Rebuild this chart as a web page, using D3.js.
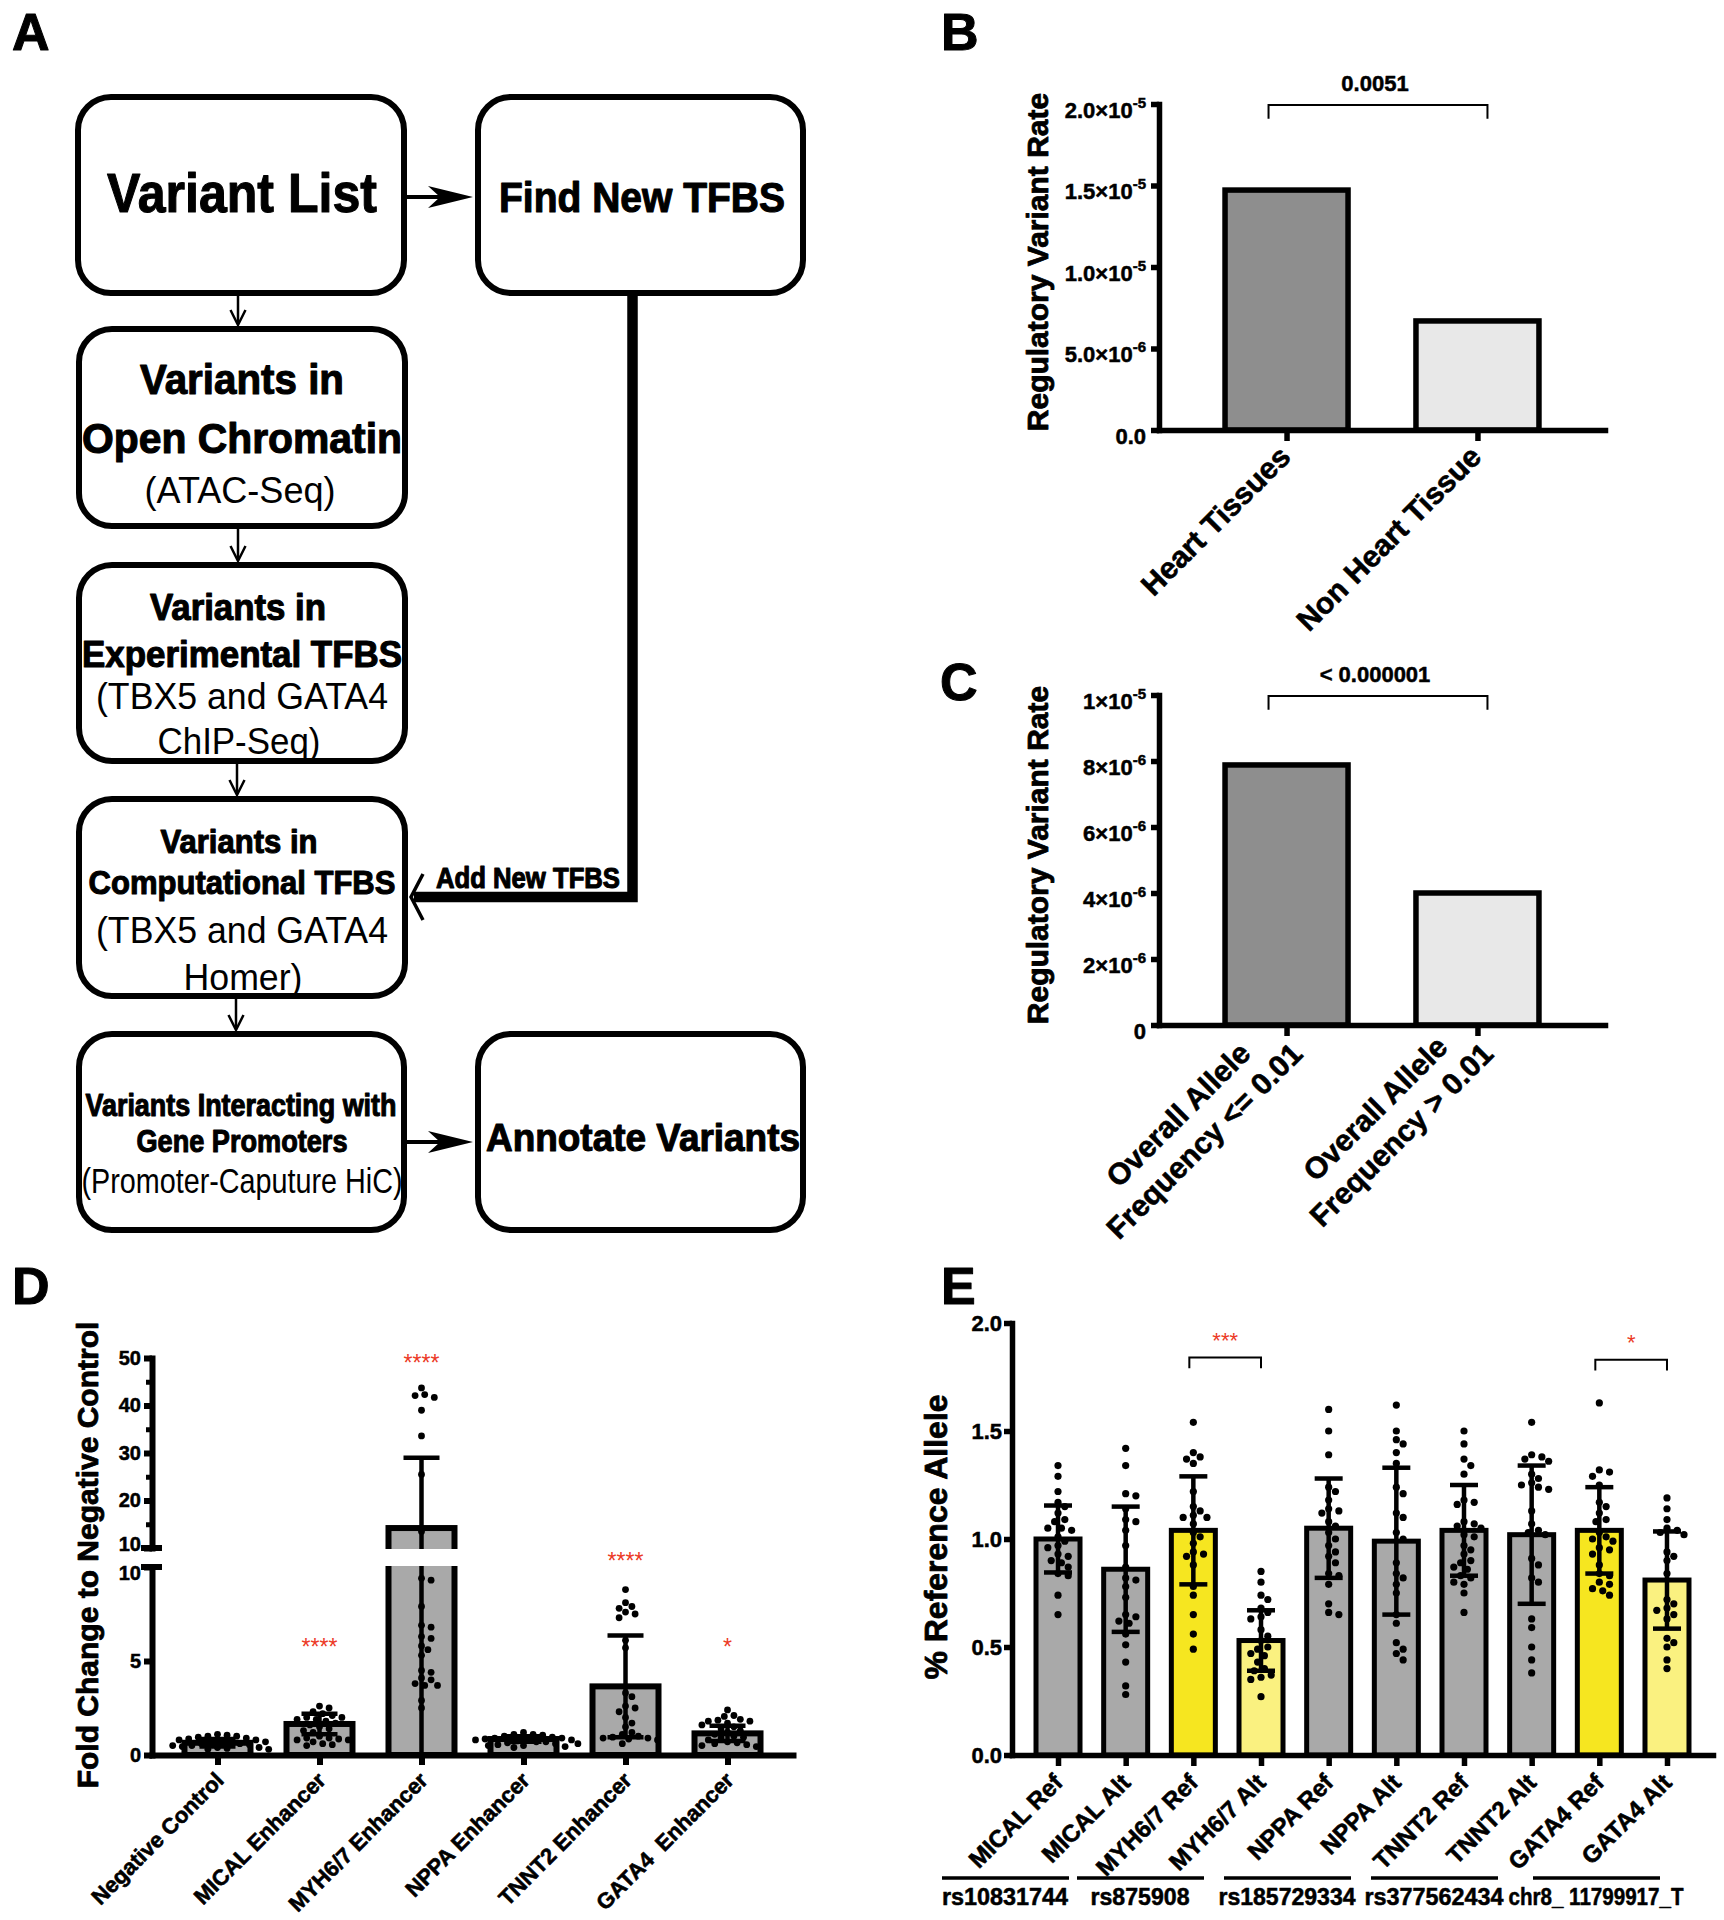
<!DOCTYPE html>
<html><head><meta charset="utf-8">
<script src="https://cdn.jsdelivr.net/npm/d3@7"></script>
<style>body{margin:0;background:#fff}svg{display:block}</style>
</head><body>
<svg id="fig" width="1724" height="1920"></svg>
<script>
// ================= DATA =================
const panelLetters = ["A", "B", "C", "D", "E"];

// Panel A: flowchart texts (content only)
const flowVariantList = ["Variant List"];
const flowFindNew = ["Find New TFBS"];
const flowOpenChromatin = ["Variants in", "Open Chromatin", "(ATAC-Seq)"];
const flowExperimental = ["Variants in", "Experimental TFBS", "(TBX5 and GATA4", "ChIP-Seq)"];
const flowComputational = ["Variants in", "Computational TFBS", "(TBX5 and GATA4", "Homer)"];
const flowInteracting = ["Variants Interacting with", "Gene Promoters", "(Promoter-Caputure HiC)"];
const flowAnnotate = ["Annotate Variants"];
const flowFeedback = ["Add New TFBS"];

// Panel B
const bCategories = ["Heart Tissues", "Non Heart Tissue"];
const bValues = [1.472e-5, 6.69e-6];
const bTickValues = [0, 5e-6, 1e-5, 1.5e-5, 2e-5];
const bTickMantissa = ["0.0", "5.0×10", "1.0×10", "1.5×10", "2.0×10"];
const bTickExponent = ["", "-6", "-5", "-5", "-5"];
const bPValue = "0.0051";
const bYTitle = "Regulatory Variant Rate";

// Panel C
const cCategories = ["Overall Allele\nFrequency <= 0.01", "Overall Allele\nFrequency > 0.01"];
const cValues = [7.88e-6, 4.0e-6];
const cTickValues = [0, 2e-6, 4e-6, 6e-6, 8e-6, 1e-5];
const cTickMantissa = ["0", "2×10", "4×10", "6×10", "8×10", "1×10"];
const cTickExponent = ["", "-6", "-6", "-6", "-6", "-5"];
const cPValue = "< 0.000001";
const cYTitle = "Regulatory Variant Rate";

// Panel D
const dCategories = ["Negative Control", "MICAL Enhancer", "MYH6/7 Enhancer", "NPPA Enhancer", "TNNT2 Enhancer", "GATA4  Enhancer"];
const dMeans = [0.65, 1.65, 14.2, 0.85, 3.65, 1.15];
const dSD = [0.2, 0.55, 14.8, 0.15, 2.7, 0.4];
const dPoints = [
  [1.1, 1.05, 1.0, 1.0, 0.95, 0.9, 0.85, 0.8, 0.8, 0.75, 0.7, 0.7, 0.65, 0.6, 0.6, 0.55, 0.5, 0.5, 0.45, 0.4, 0.4, 0.35, 0.3, 0.3],
  [2.6, 2.5, 2.3, 2.2, 2.1, 2.0, 2.0, 1.9, 1.9, 1.8, 1.7, 1.6, 1.5, 1.4, 1.3, 1.2, 1.0, 0.9, 0.9, 0.85, 0.8, 0.8, 0.7, 0.6, 0.55, 0.5],
  [43.7, 42.3, 42.1, 41.7, 39.0, 33.6, 25.5, 13.5, 9.4, 9.3, 7.9, 6.9, 6.8, 6.3, 6.2, 5.8, 5.6, 5.3, 4.5, 4.4, 4.1, 4.0, 3.8, 3.7, 3.7, 2.9, 2.5],
  [1.2, 1.1, 1.1, 1.05, 1.0, 0.95, 0.9, 0.9, 0.85, 0.85, 0.8, 0.8, 0.75, 0.7, 0.7, 0.65, 0.6, 0.6, 0.55, 0.5, 0.5, 0.45, 0.4],
  [8.8, 8.1, 7.9, 7.8, 7.6, 7.5, 7.3, 6.1, 5.7, 3.3, 3.1, 2.6, 2.5, 2.3, 2.0, 1.7, 1.5, 1.2, 1.1, 1.0, 0.95, 0.9, 0.9, 0.85, 0.8, 0.6],
  [2.4, 2.1, 2.05, 1.9, 1.85, 1.8, 1.8, 1.7, 1.6, 1.5, 1.4, 1.3, 1.2, 1.1, 1.0, 0.95, 0.9, 0.8, 0.7, 0.65, 0.6, 0.55, 0.5, 0.45]
];
const dSignif = ["", "****", "****", "", "****", "*"];
const dSignifLevel = [0, 6, 50, 0, 10.6, 6];
const dLowerTicks = [0, 5, 10];
const dUpperTicks = [10, 20, 30, 40, 50];
const dUpperMinor = [15, 25, 35, 45];
const dYTitle = "Fold Change to Negative Control";

// Panel E
const eCategories = ["MICAL Ref", "MICAL Alt", "MYH6/7 Ref", "MYH6/7 Alt", "NPPA Ref", "NPPA Alt", "TNNT2 Ref", "TNNT2 Alt", "GATA4 Ref", "GATA4 Alt"];
const eMeans = [1.00, 0.86, 1.04, 0.53, 1.05, 0.99, 1.04, 1.02, 1.04, 0.81];
const eSD = [0.155, 0.29, 0.25, 0.14, 0.23, 0.34, 0.21, 0.32, 0.20, 0.225];
const eColorGroup = ["gray", "gray", "ref", "alt", "gray", "gray", "gray", "gray", "ref", "alt"];
const ePoints = [
  [1.34, 1.29, 1.22, 1.17, 1.15, 1.12, 1.09, 1.08, 1.05, 1.05, 1.04, 1.01, 0.99, 0.97, 0.96, 0.93, 0.92, 0.90, 0.89, 0.87, 0.84, 0.83, 0.74, 0.65],
  [1.42, 1.34, 1.21, 1.20, 1.14, 1.09, 1.08, 1.04, 0.97, 0.87, 0.82, 0.81, 0.78, 0.73, 0.65, 0.64, 0.62, 0.61, 0.56, 0.51, 0.43, 0.32, 0.28],
  [1.54, 1.40, 1.38, 1.37, 1.35, 1.22, 1.15, 1.13, 1.11, 1.10, 1.10, 1.07, 1.03, 1.01, 0.98, 0.94, 0.93, 0.92, 0.88, 0.78, 0.74, 0.65, 0.56, 0.49],
  [0.85, 0.80, 0.74, 0.72, 0.68, 0.66, 0.64, 0.63, 0.58, 0.55, 0.53, 0.50, 0.49, 0.47, 0.46, 0.43, 0.40, 0.39, 0.37, 0.36, 0.35, 0.27],
  [1.60, 1.50, 1.39, 1.24, 1.22, 1.18, 1.14, 1.13, 1.12, 1.08, 1.06, 1.03, 1.00, 0.97, 0.94, 0.92, 0.89, 0.84, 0.83, 0.79, 0.70, 0.66, 0.65],
  [1.62, 1.50, 1.46, 1.44, 1.40, 1.35, 1.24, 1.21, 1.12, 1.10, 1.03, 1.00, 0.89, 0.84, 0.82, 0.79, 0.75, 0.65, 0.61, 0.52, 0.49, 0.47, 0.44],
  [1.50, 1.44, 1.37, 1.34, 1.30, 1.18, 1.17, 1.16, 1.08, 1.07, 1.06, 1.05, 1.02, 1.01, 0.97, 0.95, 0.93, 0.90, 0.89, 0.87, 0.86, 0.83, 0.82, 0.80, 0.79, 0.75, 0.66],
  [1.54, 1.39, 1.38, 1.37, 1.36, 1.30, 1.28, 1.26, 1.25, 1.24, 1.23, 1.13, 1.07, 1.04, 1.03, 1.02, 0.91, 0.88, 0.82, 0.80, 0.63, 0.59, 0.50, 0.44, 0.38],
  [1.63, 1.32, 1.31, 1.29, 1.25, 1.17, 1.15, 1.12, 1.09, 1.08, 1.03, 1.01, 1.00, 0.99, 0.96, 0.95, 0.93, 0.88, 0.84, 0.83, 0.80, 0.79, 0.77, 0.76, 0.74],
  [1.19, 1.14, 1.09, 1.05, 1.04, 1.03, 1.02, 0.94, 0.92, 0.90, 0.84, 0.72, 0.70, 0.68, 0.67, 0.65, 0.63, 0.54, 0.52, 0.50, 0.44, 0.40]
];
const eTicks = [0, 0.5, 1.0, 1.5, 2.0];
const eSnps = ["rs10831744", "rs875908", "rs185729334", "rs377562434", "chr8_ 11799917_T"];
const eSignifPairs = [[2, 3], [8, 9]];
const eSignifLabels = ["***", "*"];
const eSignifLevels = [1.84, 1.83];
const eYTitle = "% Reference Allele";

// ================= STYLE / LAYOUT =================
const FONT = "'Liberation Sans', Arial, Helvetica, sans-serif";
const RED = "#ec3a26";
const GRAY = "#a9a9a9";
const colorMap = { gray: GRAY, ref: "#f6e620", alt: "#faf180" };
const svg = d3.select("#fig");
svg.append("rect").attr("width", 1724).attr("height", 1920).attr("fill", "#fff");

function heavy(sel, w) { return sel.attr("stroke", sel.attr("fill") || "#000").attr("stroke-width", w).attr("stroke-linejoin", "round"); }
function txt(parent, s, x, y, fs, weight, anchor) {
  return parent.append("text").attr("x", x).attr("y", y).attr("font-family", FONT)
    .attr("font-size", fs).attr("font-weight", weight || "bold")
    .attr("text-anchor", anchor || "start").attr("fill", "#000").text(s);
}

// panel letters
const letterPos = [[12, 50], [941, 50], [940, 700], [12, 1304], [941, 1304]];
panelLetters.forEach((l, i) => heavy(txt(svg, l, letterPos[i][0], letterPos[i][1], 52, "bold"), 1));

// ================= PANEL A =================
const A = svg.append("g");
const boxes = [
  [75, 94, 407, 296], [475, 94, 806, 296], [76, 326, 408, 529], [76, 562, 408, 764],
  [76, 796, 408, 999], [76, 1031, 407, 1233], [475, 1031, 806, 1233]
];
boxes.forEach(b => A.append("rect").attr("x", b[0] + 3).attr("y", b[1] + 3)
  .attr("width", b[2] - b[0] - 6).attr("height", b[3] - b[1] - 6).attr("rx", 33)
  .attr("fill", "#fff").attr("stroke", "#000").attr("stroke-width", 6));

function flowLines(lines, cx, specs) {
  lines.forEach((s, i) => {
    const sp = specs[i];
    const t = A.append("text").attr("x", cx + (sp.dx || 0)).attr("y", sp.y).attr("font-family", FONT)
      .attr("font-size", sp.fs).attr("font-weight", sp.w).attr("text-anchor", "middle").attr("fill", "#000")
      .attr("textLength", sp.len).attr("lengthAdjust", "spacingAndGlyphs").text(s);
    if (sp.w === "bold") heavy(t, 1.1);
  });
}
flowLines(flowVariantList, 242, [{ y: 212, fs: 56, w: "bold", len: 270 }]);
flowLines(flowFindNew, 642, [{ y: 212, fs: 42, w: "bold", len: 286 }]);
flowLines(flowOpenChromatin, 242, [
  { y: 394, fs: 42, w: "bold", len: 204 }, { y: 453, fs: 42, w: "bold", len: 320 },
  { y: 503, fs: 36, w: "normal", len: 191, dx: -2 }]);
flowLines(flowExperimental, 242, [
  { y: 620, fs: 36, w: "bold", len: 176, dx: -4 }, { y: 667, fs: 36, w: "bold", len: 320 },
  { y: 709, fs: 37, w: "normal", len: 292 }, { y: 754, fs: 37, w: "normal", len: 163, dx: -3 }]);
flowLines(flowComputational, 242, [
  { y: 853, fs: 33, w: "bold", len: 157, dx: -3 }, { y: 894, fs: 34, w: "bold", len: 307 },
  { y: 943, fs: 37, w: "normal", len: 292 }, { y: 990, fs: 37, w: "normal", len: 119, dx: 1 }]);
flowLines(flowInteracting, 242, [
  { y: 1116, fs: 31, w: "bold", len: 311, dx: -1 }, { y: 1152, fs: 31, w: "bold", len: 211 },
  { y: 1193, fs: 35, w: "normal", len: 321 }]);
flowLines(flowAnnotate, 643, [{ y: 1151, fs: 39, w: "bold", len: 314 }]);
flowLines(flowFeedback, 528, [{ y: 888, fs: 29, w: "bold", len: 184 }]);

// down arrows between left boxes
[[296, 326, 238], [529, 562, 238], [764, 796, 237], [999, 1031, 236]].forEach(a => {
  A.append("line").attr("x1", a[2]).attr("x2", a[2]).attr("y1", a[0]).attr("y2", a[1] - 2)
    .attr("stroke", "#000").attr("stroke-width", 2.5);
  A.append("path").attr("d", `M${a[2] - 7.5},${a[1] - 16} L${a[2]},${a[1] - 1} L${a[2] + 7.5},${a[1] - 16}`)
    .attr("fill", "none").attr("stroke", "#000").attr("stroke-width", 2.5);
});
// right arrows
[[407, 473, 197], [407, 473, 1142]].forEach(a => {
  A.append("line").attr("x1", a[0]).attr("x2", a[1] - 20).attr("y1", a[2]).attr("y2", a[2])
    .attr("stroke", "#000").attr("stroke-width", 4);
  A.append("path").attr("d", `M${a[1]},${a[2]} L${a[1] - 45},${a[2] - 11} L${a[1] - 33},${a[2]} L${a[1] - 45},${a[2] + 11} Z`)
    .attr("fill", "#000");
});
// feedback thick line
A.append("path").attr("d", "M632.5,290 V897 H414").attr("fill", "none")
  .attr("stroke", "#000").attr("stroke-width", 10.5).attr("stroke-linejoin", "miter");
A.append("path").attr("d", "M423,874 L411,897 L423,920").attr("fill", "none")
  .attr("stroke", "#000").attr("stroke-width", 3.5);

// ================= helpers =================
function styleAxis(g, sw, fs) {
  g.attr("font-family", FONT).attr("font-size", fs);
  g.select(".domain").attr("stroke-width", sw).attr("stroke-linecap", "square");
  g.selectAll(".tick line").attr("stroke-width", sw);
  g.selectAll(".tick text").attr("font-weight", "bold").attr("fill", "#000")
    .attr("stroke", "#000").attr("stroke-width", 0.5);
}
function yTitle(s, cx, cy, fs) {
  heavy(svg.append("text").attr("transform", `translate(${cx + fs * 0.36},${cy}) rotate(-90)`)
    .attr("font-family", FONT).attr("font-size", fs).attr("font-weight", "bold").attr("fill", "#000")
    .attr("text-anchor", "middle").text(s), 0.8);
}
function rotLabels(scale, cats, axisY, dx, dy, fs, lh) {
  cats.forEach(c => {
    const lines = c.split("\n");
    const g = svg.append("g").attr("transform", `translate(${scale(c) + dx},${axisY + dy}) rotate(-45)`);
    const ts = lines.map(l => heavy(g.append("text").attr("font-family", FONT).attr("font-size", fs)
      .attr("font-weight", "bold").attr("fill", "#000").attr("xml:space", "preserve").text(l), 0.6));
    const W = d3.max(ts, t => t.node().getComputedTextLength());
    ts.forEach((t, i) => t.attr("text-anchor", "middle").attr("x", -W / 2)
      .attr("y", (i - (lines.length - 1)) * lh + 0.36 * fs));
  });
}
function swarm(values, yFn, cx, r, step) {
  const placed = [];
  values.map(v => ({ v, y: yFn(v) })).sort((a, b) => a.y - b.y).forEach(p => {
    for (let k = 0; k < 400; k++) {
      const off = k === 0 ? 0 : (k % 2 ? 1 : -1) * Math.ceil(k / 2) * step;
      const x = cx + off;
      if (placed.every(q => (q.x - x) ** 2 + (q.y - p.y) ** 2 >= (2 * r + 0.4) ** 2)) {
        placed.push({ x, y: p.y }); break;
      }
    }
  });
  return placed;
}
function supLabels(g, mant, exps) {
  g.selectAll(".tick text").each(function (d, i) {
    const t = d3.select(this);
    t.text(mant[i]).attr("y", 6);
    if (exps[i]) t.append("tspan").attr("dy", -10).attr("font-size", 15).text(exps[i]);
  });
}

// ================= PANEL B & C =================
function barPanel(cats, vals, yDomainMax, yTop, y0, tickVals, mant, exps, pText, title, labelOpts) {
  const x = d3.scalePoint().domain(cats).range([1159, 1605]).padding(0.668);
  const y = d3.scaleLinear().domain([0, yDomainMax]).range([y0, yTop]);
  const fills = ["#8e8e8e", "#e8e8e8"];
  cats.forEach((c, i) => svg.append("rect").attr("x", x(c) - 61.5).attr("width", 123)
    .attr("y", y(vals[i])).attr("height", y(0) - y(vals[i]))
    .attr("fill", fills[i]).attr("stroke", "#000").attr("stroke-width", 5.5));
  const gy = svg.append("g").attr("transform", "translate(1159,0)")
    .call(d3.axisLeft(y).tickValues(tickVals).tickSize(8).tickSizeOuter(0).tickPadding(5));
  styleAxis(gy, 5.5, 22);
  supLabels(gy, mant, exps);
  const gx = svg.append("g").attr("transform", `translate(0,${y0})`)
    .call(d3.axisBottom(x).tickSize(11).tickSizeOuter(0).tickFormat(""));
  styleAxis(gx, 5.5, 20);
  const by = y(yDomainMax * 0.997), byl = y(yDomainMax * 0.955);
  svg.append("path").attr("d", `M${x(cats[0]) - 18},${byl} V${by} H${x(cats[1]) + 10} V${byl}`)
    .attr("fill", "none").attr("stroke", "#000").attr("stroke-width", 2);
  heavy(txt(svg, pText, (x(cats[0]) + x(cats[1])) / 2 - 7, y(yDomainMax * 1.04), 22, "bold", "middle"), 0.5);
  yTitle(title, 1037, (y0 + yTop) / 2 - 5, 30);
  rotLabels(x, cats, y0, labelOpts.dx, labelOpts.dy, labelOpts.fs, labelOpts.lh);
}
barPanel(bCategories, bValues, 2e-5, 104, 430, bTickValues, bTickMantissa, bTickExponent, bPValue, bYTitle,
  { dx: -2, dy: 21, fs: 30, lh: 37 });
barPanel(cCategories, cValues, 1e-5, 695, 1025, cTickValues, cTickMantissa, cTickExponent, cPValue, cYTitle,
  { dx: 10, dy: 23, fs: 30, lh: 37 });

// ================= PANEL D =================
const xD = d3.scalePoint().domain(dCategories).range([152, 793]).padding(0.642);
const yDlow = d3.scaleLinear().domain([0, 10]).range([1755, 1567]);
const yDup = d3.scaleLinear().domain([10, 50]).range([1548, 1358]);
const yD = v => (v <= 10 ? yDlow(v) : yDup(v));
const ySig = v => (v < 11 ? yDlow(v) : yDup(v));

dCategories.forEach((c, i) => {
  svg.append("rect").attr("x", xD(c) - 33).attr("width", 66).attr("y", yD(dMeans[i]))
    .attr("height", yD(0) - yD(dMeans[i])).attr("fill", GRAY).attr("stroke", "#000").attr("stroke-width", 6);
});
dCategories.forEach((c, i) => {
  swarm(dPoints[i], yD, xD(c), 3.4, 3.2).forEach(p =>
    svg.append("circle").attr("cx", p.x).attr("cy", p.y).attr("r", 3.4).attr("fill", "#000"));
});
dCategories.forEach((c, i) => {
  const hi = dMeans[i] + dSD[i], lo = Math.max(0, dMeans[i] - dSD[i]);
  const cx = xD(c);
  svg.append("line").attr("x1", cx).attr("x2", cx).attr("y1", yD(lo)).attr("y2", yD(hi))
    .attr("stroke", "#000").attr("stroke-width", 4.5);
  svg.append("line").attr("x1", cx - 18).attr("x2", cx + 18).attr("y1", yD(hi)).attr("y2", yD(hi))
    .attr("stroke", "#000").attr("stroke-width", 4.5);
  if (lo > 0) svg.append("line").attr("x1", cx - 18).attr("x2", cx + 18).attr("y1", yD(lo)).attr("y2", yD(lo))
    .attr("stroke", "#000").attr("stroke-width", 4.5);
});
svg.append("rect").attr("x", 158).attr("width", 640).attr("y", yDup(10) + 1)
  .attr("height", yDlow(10) - yDup(10) - 2).attr("fill", "#fff");
dCategories.forEach((c, i) => {
  if (dSignif[i]) txt(svg, dSignif[i], xD(c), ySig(dSignifLevel[i]) + 13, 23, "normal", "middle").attr("fill", RED);
});
const gDl = svg.append("g").attr("transform", "translate(152,0)")
  .call(d3.axisLeft(yDlow).tickValues(dLowerTicks).tickSize(8).tickSizeOuter(0).tickPadding(3));
styleAxis(gDl, 6, 20);
const gDu = svg.append("g").attr("transform", "translate(152,0)")
  .call(d3.axisLeft(yDup).tickValues(dUpperTicks).tickSize(8).tickSizeOuter(0).tickPadding(3));
styleAxis(gDu, 6, 20);
// keep the two stacked "10" labels from colliding
gDu.selectAll(".tick text").filter(d => d === 10).attr("dy", "0.12em");
gDl.selectAll(".tick text").filter(d => d === 10).attr("dy", "0.62em");
const gDm = svg.append("g").attr("transform", "translate(152,0)")
  .call(d3.axisLeft(yDup).tickValues(dUpperMinor).tickSize(6).tickSizeOuter(0).tickFormat(""));
styleAxis(gDm, 5, 20);
gDm.select(".domain").remove();
[yDup(10), yDlow(10)].forEach(yy => svg.append("line").attr("x1", 141).attr("x2", 162)
  .attr("y1", yy).attr("y2", yy).attr("stroke", "#000").attr("stroke-width", 6));
const gDx = svg.append("g").attr("transform", "translate(0,1755)")
  .call(d3.axisBottom(xD).tickSize(10).tickSizeOuter(0).tickFormat(""));
styleAxis(gDx, 6, 20);
yTitle(dYTitle, 87, 1555, 30);
rotLabels(xD, dCategories, 1755, 2, 21, 22, 24);

// ================= PANEL E =================
const xE = d3.scalePoint().domain(eCategories).range([1012, 1713]).padding(0.68);
const yE = d3.scaleLinear().domain([0, 2]).range([1755, 1323]);
eCategories.forEach((c, i) => {
  svg.append("rect").attr("x", xE(c) - 22).attr("width", 44).attr("y", yE(eMeans[i]))
    .attr("height", yE(0) - yE(eMeans[i])).attr("fill", colorMap[eColorGroup[i]])
    .attr("stroke", "#000").attr("stroke-width", 5);
});
eCategories.forEach((c, i) => {
  swarm(ePoints[i], yE, xE(c), 3.6, 3.4).forEach(p =>
    svg.append("circle").attr("cx", p.x).attr("cy", p.y).attr("r", 3.6).attr("fill", "#000"));
});
eCategories.forEach((c, i) => {
  const hi = eMeans[i] + eSD[i], lo = eMeans[i] - eSD[i], cx = xE(c);
  svg.append("line").attr("x1", cx).attr("x2", cx).attr("y1", yE(lo)).attr("y2", yE(hi))
    .attr("stroke", "#000").attr("stroke-width", 4.5);
  [hi, lo].forEach(v => svg.append("line").attr("x1", cx - 14).attr("x2", cx + 14)
    .attr("y1", yE(v)).attr("y2", yE(v)).attr("stroke", "#000").attr("stroke-width", 4.5));
});
eSignifPairs.forEach((p, k) => {
  const x1 = xE(eCategories[p[0]]) - 4, x2 = xE(eCategories[p[1]]);
  const yb = yE(eSignifLevels[k]), yl = yE(eSignifLevels[k] - 0.05);
  svg.append("path").attr("d", `M${x1},${yl} V${yb} H${x2} V${yl}`).attr("fill", "none")
    .attr("stroke", "#000").attr("stroke-width", 2);
  txt(svg, eSignifLabels[k], (x1 + x2) / 2, yE(eSignifLevels[k] + 0.1) + 12, 22, "normal", "middle").attr("fill", RED);
});
const gEy = svg.append("g").attr("transform", "translate(1012,0)")
  .call(d3.axisLeft(yE).tickValues(eTicks).tickSize(8).tickSizeOuter(0).tickPadding(2).tickFormat(d3.format(".1f")));
styleAxis(gEy, 5.5, 22);
const gEx = svg.append("g").attr("transform", "translate(0,1755)")
  .call(d3.axisBottom(xE).tickSize(11).tickSizeOuter(0).tickFormat(""));
styleAxis(gEx, 5.5, 20);
yTitle(eYTitle, 935, 1537, 32);
rotLabels(xE, eCategories, 1755, 0, 23, 24, 26);
// SNP group underlines and labels
const snpStarts = [942, 1077, 1224, 1371, 1533];
const snpWidths = [126, 99, 137, 139, 175];
eSnps.forEach((s, i) => {
  svg.append("line").attr("x1", snpStarts[i]).attr("x2", snpStarts[i] + 127)
    .attr("y1", 1878).attr("y2", 1878).attr("stroke", "#000").attr("stroke-width", 3.5);
  heavy(txt(svg, s, snpStarts[i] + 63, 1905, 23, "bold", "middle").attr("xml:space", "preserve")
    .attr("textLength", snpWidths[i]).attr("lengthAdjust", "spacingAndGlyphs"), 0.5);
});
</script>
</body></html>
